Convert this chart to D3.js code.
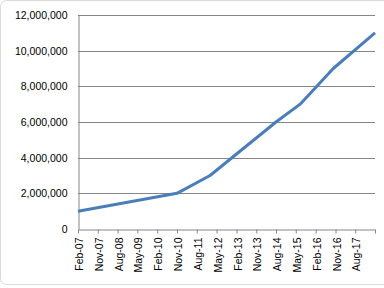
<!DOCTYPE html>
<html>
<head>
<meta charset="utf-8">
<script src="https://cdn.jsdelivr.net/npm/d3@7"></script>
<style>
  body { margin: 0; background: #fff; }
  svg { display: block; font-family: "DejaVu Sans", Verdana, sans-serif; }
</style>
</head>
<body>
<script>
  // data
  const pointDates = ["Feb-07", "Nov-10", "Feb-12", "Aug-14", "Jul-15", "Oct-16", "May-18"];
  const pointValues = [1000000, 2000000, 3000000, 6000000, 7000000, 9000000, 11000000];
  const tickLabels = ["Feb-07", "Nov-07", "Aug-08", "May-09", "Feb-10", "Nov-10", "Aug-11", "May-12",
    "Feb-13", "Nov-13", "Aug-14", "May-15", "Feb-16", "Nov-16", "Aug-17"];
  const axisEnd = "May-18";
  const yTicks = [0, 2000000, 4000000, 6000000, 8000000, 10000000, 12000000];

  const w = 384;
  const h = 288;
  const parse = d3.timeParse("%b-%y");
  const fmtMonth = d3.timeFormat("%b-%y");

  const svg = d3.select("body").append("svg")
    .attr("width", w)
    .attr("height", h);

  // chart frame
  svg.append("rect")
    .attr("x", 0.5).attr("y", 0.5)
    .attr("width", w + 10).attr("height", 284)
    .attr("rx", 6)
    .attr("fill", "#fff")
    .attr("stroke", "#d9d9d9");

  const x = d3.scaleTime()
    .domain([parse(tickLabels[0]), parse(axisEnd)])
    .range([78, 375]);

  const y = d3.scaleLinear()
    .domain([0, 12000000])
    .range([229, 15]);

  // gridlines
  svg.append("g")
    .selectAll("line")
    .data(yTicks.slice(1))
    .enter()
    .append("line")
    .attr("x1", 78).attr("x2", 375)
    .attr("y1", d => Math.round(y(d)) + 0.5)
    .attr("y2", d => Math.round(y(d)) + 0.5)
    .attr("stroke", "#868686");

  const yAxis = d3.axisLeft(y)
    .tickValues(yTicks)
    .tickFormat(d3.format(","))
    .tickSize(0)
    .tickPadding(11);

  const gy = svg.append("g")
    .attr("transform", "translate(78.5,0)")
    .call(yAxis);
  gy.selectAll("path, line").attr("stroke", "#868686");
  gy.selectAll("text").attr("fill", "#000").style("font-size", "10.5px");

  const tickDates = tickLabels.map(parse).concat([parse(axisEnd)]);
  const xAxis = d3.axisBottom(x)
    .tickValues(tickDates)
    .tickFormat(d => tickLabels.includes(fmtMonth(d)) ? fmtMonth(d) : "")
    .tickSize(4)
    .tickSizeOuter(0);

  const gx = svg.append("g")
    .attr("transform", "translate(0,229.5)")
    .call(xAxis);
  gx.selectAll("path, line").attr("stroke", "#868686");
  gx.selectAll("text")
    .attr("fill", "#000")
    .style("font-size", "10.5px")
    .attr("text-anchor", "end")
    .attr("transform", "rotate(-90)")
    .attr("x", -8)
    .attr("y", 1)
    .attr("dy", "0.35em");

  const line = d3.line()
    .x((d, i) => x(parse(pointDates[i])))
    .y(d => y(d));

  svg.append("path")
    .datum(pointValues)
    .attr("d", line)
    .attr("fill", "none")
    .attr("stroke", "#4a7ebb")
    .attr("stroke-width", 3)
    .attr("stroke-linejoin", "round");
</script>
</body>
</html>
